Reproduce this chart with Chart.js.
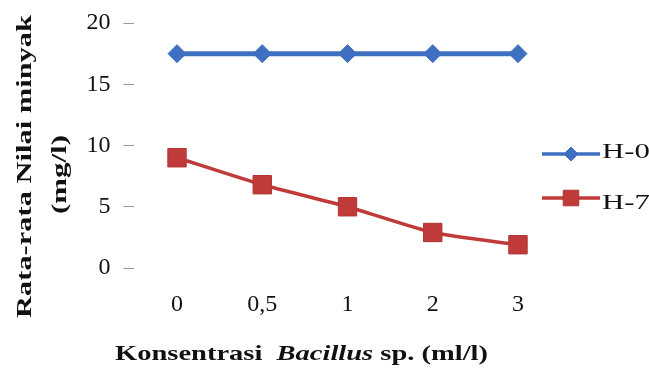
<!DOCTYPE html>
<html>
<head>
<meta charset="utf-8">
<script src="https://cdn.jsdelivr.net/npm/chart.js@4.4.0/dist/chart.umd.min.js"></script>
<style>
  html, body { margin: 0; padding: 0; background: #fff; }
  #wrap { width: 649px; height: 370px; }
</style>
</head>
<body>
<div id="wrap"><canvas id="chart" width="649" height="370"></canvas></div>
<script>
// Bacillus concentration (ml/l) on the x axis
const categories = ['0', '0,5', '1', '2', '3'];
// mean oil value (mg/l) on day 0 and day 7
const seriesH0 = [17.5, 17.5, 17.5, 17.5, 17.5];
const seriesH7 = [9, 6.8, 5, 2.9, 1.9];
const seriesNames = ['H-0', 'H-7'];
const yTickValues = [0, 5, 10, 15, 20];

const SERIF = '"Liberation Serif", "Times New Roman", serif';
const BLUE = '#3f6fc1';
const RED = '#c13a3a';

// Draw a run of text pieces, stretched horizontally to a given width.
function drawStretched(ctx, parts, x, y, width, rotation) {
  ctx.save();
  let total = 0;
  parts.forEach(p => { ctx.font = p.font; total += ctx.measureText(p.text).width; });
  ctx.translate(x, y);
  ctx.rotate(rotation || 0);
  ctx.scale(width / total, 1);
  ctx.fillStyle = '#111';
  ctx.textAlign = 'left';
  ctx.textBaseline = 'alphabetic';
  let cx = 0;
  parts.forEach(p => {
    ctx.font = p.font;
    ctx.fillText(p.text, cx, 0);
    cx += ctx.measureText(p.text).width;
  });
  ctx.restore();
}

// Axis titles and the series key on the right.
const titlesAndKey = {
  id: 'titlesAndKey',
  afterDraw(chart) {
    const ctx = chart.ctx;
    const bold = 'bold 22px ' + SERIF;
    const boldItalic = 'italic bold 22px ' + SERIF;

    drawStretched(ctx, [
      { text: 'Konsentrasi  ', font: bold },
      { text: 'Bacillus', font: boldItalic },
      { text: ' sp. (ml/l)', font: bold }
    ], 115, 360, 373, 0);

    drawStretched(ctx, [{ text: 'Rata-rata Nilai minyak', font: bold }], 31, 318, 303, -Math.PI / 2);
    drawStretched(ctx, [{ text: '(mg/l)', font: bold }], 66, 214, 79, -Math.PI / 2);

    const rows = [{ line: 154, text: 158 }, { line: 198, text: 209 }];
    chart.data.datasets.forEach((ds, i) => {
      const r = rows[i];
      ctx.save();
      ctx.strokeStyle = ds.borderColor;
      ctx.lineWidth = ds.legendLineWidth;
      ctx.beginPath();
      ctx.moveTo(542, r.line);
      ctx.lineTo(600, r.line);
      ctx.stroke();
      ctx.fillStyle = ds.pointBackgroundColor;
      ctx.strokeStyle = ds.pointBorderColor;
      ctx.lineWidth = 1;
      Chart.helpers.drawPoint(ctx, {
        pointStyle: ds.pointStyle,
        radius: ds.legendPointRadius,
        borderWidth: 1,
        rotation: 0
      }, 571, r.line);
      ctx.restore();
      const font = '22px ' + SERIF;
      ctx.font = font;
      const w = ctx.measureText(ds.label).width * 1.4;
      drawStretched(ctx, [{ text: ds.label, font }], 602, r.text, w, 0);
    });
  }
};

new Chart(document.getElementById('chart'), {
  type: 'line',
  data: {
    labels: categories,
    datasets: [
      {
        label: seriesNames[0],
        data: seriesH0,
        borderColor: BLUE,
        backgroundColor: BLUE,
        pointBackgroundColor: BLUE,
        pointBorderColor: BLUE,
        borderWidth: 5,
        pointStyle: 'rectRot',
        pointRadius: 9,
        pointBorderWidth: 1,
        legendPointRadius: 7,
        legendLineWidth: 3.5,
        tension: 0.2
      },
      {
        label: seriesNames[1],
        data: seriesH7,
        borderColor: RED,
        backgroundColor: RED,
        pointBackgroundColor: RED,
        pointBorderColor: '#b03535',
        borderWidth: 3.5,
        pointStyle: 'rect',
        pointRadius: 13,
        pointBorderWidth: 1,
        legendPointRadius: 11,
        legendLineWidth: 3.5,
        tension: 0.2
      }
    ]
  },
  options: {
    responsive: false,
    animation: false,
    devicePixelRatio: 1,
    layout: { padding: { top: 23, right: 88.4, bottom: 0, left: 0 } },
    plugins: {
      legend: { display: false },
      tooltip: { enabled: false },
      title: { display: false }
    },
    scales: {
      x: {
        type: 'category',
        offset: true,
        grid: { display: false, drawTicks: false },
        border: { display: false },
        ticks: {
          font: { family: SERIF, size: 24 },
          color: '#111',
          padding: 22,
          maxRotation: 0,
          autoSkip: false
        },
        afterFit(scale) {
          scale.height = 102;
          scale.paddingLeft = 0;
          scale.paddingRight = 0;
        }
      },
      y: {
        min: 0,
        max: 20,
        afterBuildTicks(scale) { scale.ticks = yTickValues.map(v => ({ value: v })); },
        grid: {
          drawOnChartArea: false,
          drawTicks: true,
          tickLength: 11,
          tickColor: '#9a9a9a',
          lineWidth: 1
        },
        border: { display: false },
        ticks: {
          font: { family: SERIF, size: 24 },
          color: '#111',
          padding: 13
        },
        afterFit(scale) {
          scale.width = 134.4;
          scale.paddingTop = 0;
          scale.paddingBottom = 0;
        }
      }
    }
  },
  plugins: [titlesAndKey]
});
</script>
</body>
</html>
